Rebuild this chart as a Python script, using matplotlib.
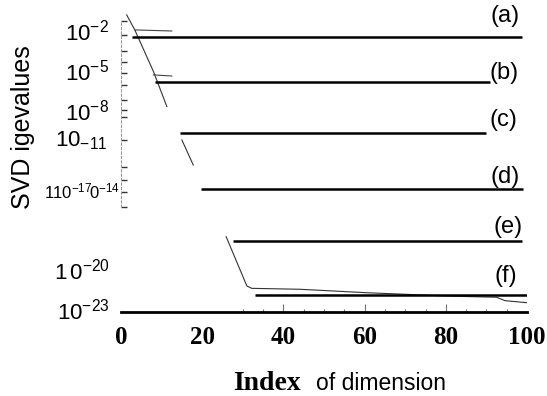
import numpy as np
import matplotlib
matplotlib.use("Agg")
import matplotlib.pyplot as plt
from matplotlib.ticker import FixedLocator, NullFormatter

plt.rcParams['font.family'] = ['Liberation Sans', 'DejaVu Sans']
plt.rcParams['mathtext.fontset'] = 'custom'
plt.rcParams['mathtext.rm'] = 'Liberation Sans'
plt.rcParams['mathtext.it'] = 'Liberation Sans:italic'
plt.rcParams['mathtext.bf'] = 'Liberation Sans:bold'

# ---- data (log10 of singular values) ----
curve_x = [1.4, 3.4, 8.0, 11.3, np.nan, 15.0, 17.8, np.nan,
           25.9, 31.0, 32.2, 44.1, 60.5, 68.7, 80.2, 92.5, 94.6, 99.9]
curve_logy = [-0.64, -1.77, -4.91, -7.55, np.nan, -10.06, -11.95, np.nan,
              -17.35, -21.06, -21.24, -21.31, -21.57, -21.67, -21.82, -21.91, -22.17, -22.32]
stub_a_x = [3.4, 12.5]
stub_a_logy = [-1.77, -1.85]
stub_b_x = [8.0, 12.5]
stub_b_logy = [-5.16, -5.24]

level_names = ['(a)', '(b)', '(c)', '(d)', '(e)', '(f)']
level_logy = [-2.28, -5.67, -9.51, -13.75, -17.67, -21.74]
level_start = [2.6, 8.4, 14.5, 19.7, 27.5, 33.0]
level_end = [98.7, 90.9, 90.0, 98.9, 98.7, 99.9]
name_x = [94.6, 94.3, 94.3, 94.6, 95.3, 94.8]
name_logy = [-0.69, -5.03, -8.55, -12.83, -16.60, -20.29]

xticks = [0, 20, 40, 60, 80, 100]
xtick_labels = ['0', '20', '40', '60', '80', '100']
xminor = [30, 35, 45, 50, 55, 65, 70, 75, 85, 90, 95]
ytick_logs = [-1.09, -2.15, -3.35, -4.18, -5.01, -5.91, -7.04, -7.80, -8.33,
              -10.06, -12.09, -13.07, -13.98, -15.11]
ylabel_texts = [r'$10^{-2}$', r'$10^{-5}$', r'$10^{-8}$', r'$10_{-11}$',
                r'$1\!\!\;10^{-17}\!0^{-14}$', r'$1\,0^{-20}$', r'$10^{-23}$']
ylabel_logs = [-2.0, -5.0, -8.0, -9.91, -13.98, -20.0, -23.0]

# ---- figure ----
fig = plt.figure(figsize=(5.47, 3.96), dpi=100)
ax = fig.add_axes([121/547, 84.3/396, 406/547, 297.3/396])
ax.set_yscale('log')
ax.set_xlim(0, 100)
ax.set_ylim(1e-23, 10**-0.6)

p = lambda v: 10.0 ** np.asarray(v, dtype=float)

ax.plot(curve_x, p(curve_logy), color='#333333', lw=0.8)
ax.plot(stub_a_x, p(stub_a_logy), color='#444444', lw=0.8)
ax.plot(stub_b_x, p(stub_b_logy), color='#444444', lw=0.8)

for s, e, ly in zip(level_start, level_end, level_logy):
    ax.plot([s, e], p([ly, ly]), color='black', lw=1.8, solid_capstyle='butt')

for nm, nx, ny in zip(level_names, name_x, name_logy):
    ax.text(nx, 10**ny, nm, fontsize=17, ha='center', va='center')

for sp in ['top', 'right']:
    ax.spines[sp].set_visible(False)
ax.spines['bottom'].set_linewidth(2.0)
ax.spines['left'].set_linestyle((0, (2, 2)))
ax.spines['left'].set_color('#999999')
ax.spines['left'].set_linewidth(0.8)
ax.spines['left'].set_bounds(10**ytick_logs[-1], 10**ytick_logs[0])

ax.yaxis.set_major_locator(FixedLocator(list(p(ytick_logs))))
ax.yaxis.set_minor_locator(FixedLocator([]))
ax.yaxis.set_major_formatter(NullFormatter())
ax.yaxis.set_minor_formatter(NullFormatter())
ax.tick_params(axis='y', which='major', direction='in', length=4, width=1.0, color='#333333')

ax.set_xticks(xticks)
ax.set_xticklabels(xtick_labels, fontfamily='Liberation Serif', fontweight='bold', fontsize=18)
ax.xaxis.set_minor_locator(FixedLocator(xminor))
ax.tick_params(axis='x', which='major', direction='in', length=6, width=0.8, color='#777777', pad=10)
ax.tick_params(axis='x', which='minor', direction='in', length=2.5, width=0.8, color='#777777')
for t, v in zip(ax.xaxis.get_major_ticks(), xticks):
    if v in (0, 20, 100):
        t.tick1line.set_visible(False)

offsets = [-8.6, -8.6, -8.6, -10.0, -1.0, -8.0, -8.0]
sizes = [16, 16, 16, 16, 12, 16, 16]
for txt, lg, off, fs in zip(ylabel_texts, ylabel_logs, offsets, sizes):
    ax.annotate(txt, xy=(0, 10**lg), xycoords=('axes fraction', 'data'),
                xytext=(off, -0.36 * fs), textcoords='offset points',
                ha='right', va='baseline', fontsize=fs)

fig.text(232.7/547, 6/396, 'Index', fontfamily='Liberation Serif', fontweight='bold',
         fontsize=20, ha='left', va='baseline')
fig.text(316/547, 6/396, 'of dimension', fontsize=16.5, ha='left', va='baseline')
fig.text(11/547, 0.678, 'SVD igevalues', rotation=90, fontsize=18, ha='left', va='center')

fig.savefig('out.png', dpi=100)
